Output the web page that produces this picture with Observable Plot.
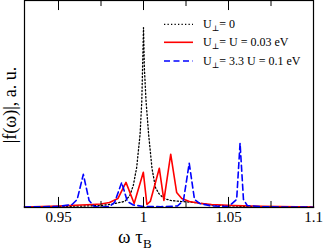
<!DOCTYPE html>
<html>
<head>
<meta charset="utf-8">
<script src="https://cdn.jsdelivr.net/npm/d3@7"></script>
<script src="https://cdn.jsdelivr.net/npm/@observablehq/plot@0.6"></script>
<style>
  html, body { margin: 0; padding: 0; background: #fff; }
  #chart { width: 324px; height: 250px; }
</style>
</head>
<body>
<div id="chart"></div>
<script>
// Series 1: U⊥ = 0 (black dotted)
const omega0 = [0.93, 0.95, 0.965, 0.975, 0.982, 0.986, 0.989, 0.992, 0.994, 0.996, 0.998, 0.999, 1.0, 1.0005, 1.0015, 1.003, 1.005, 1.007, 1.009, 1.012, 1.016, 1.022, 1.03, 1.04, 1.06, 1.08, 1.1];
const f0     = [0.5, 1, 1.5, 2, 3.5, 5, 6, 12, 22, 40, 73, 106, 179, 139, 106, 73, 39, 20, 14, 9, 7, 6, 5, 2.5, 1, 0.7, 0.5];

// Series 2: U⊥ = U = 0.03 eV (red solid)
const omega1 = [0.93, 0.95, 0.97, 0.975, 0.98, 0.985, 0.9897, 0.9945, 0.9999, 1.002, 1.004, 1.0093, 1.012, 1.016, 1.0195, 1.0225, 1.027, 1.033, 1.04, 1.053, 1.07, 1.1];
const f1     = [0.5, 1.5, 3, 3.5, 5, 9, 25, 4, 35, 3, 6, 39, 7, 53, 15, 9, 6, 4.3, 3, 2, 1.2, 0.5];

// Series 3: U⊥ = 3.3 U = 0.1 eV (blue dashed)
const omega2 = [0.93, 0.95, 0.958, 0.961, 0.9646, 0.968, 0.971, 0.975, 0.98, 0.983, 0.9872, 0.9905, 0.994, 1.0, 1.01, 1.02, 1.0235, 1.0269, 1.03, 1.033, 1.04, 1.05, 1.0548, 1.0568, 1.0588, 1.061, 1.07, 1.08, 1.1];
const f2     = [0.5, 1, 3, 8, 33, 7, 1, 0.3, 1, 5, 25, 6, 2.5, 1, 0.8, 1.5, 7, 44, 8, 4, 1.5, 1, 8, 64, 8, 2, 0.8, 0.5, 0.3];

const seriesLabels = ["U⊥= 0", "U⊥= U = 0.03 eV", "U⊥= 3.3 U = 0.1 eV"];
const xTickValues = [0.95, 1, 1.05, 1.1];
const majorTicks = [0.95, 1, 1.05];
const minorTicks = [0.975, 1.025, 1.075];

const toRows = (xs, ys) => xs.map((x, i) => ({x, y: ys[i]}));
const rows0 = toRows(omega0, f0);
const rows1 = toRows(omega1, f1);
const rows2 = toRows(omega2, f2);

const serif = "'Liberation Serif', 'DejaVu Serif', serif";
const yTop = 206;

const chart = Plot.plot({
  width: 324,
  height: 250,
  marginLeft: 24,
  marginRight: 11,
  marginTop: 0,
  marginBottom: 43,
  style: {background: "#fff", fontFamily: serif},
  x: {domain: [0.93, 1.1]},
  y: {domain: [0, yTop], axis: null},
  marks: [
    Plot.line(rows0, {x: "x", y: "y", stroke: "#000", strokeWidth: 1.3, strokeDasharray: "1.3,2.2"}),
    Plot.line(rows1, {x: "x", y: "y", stroke: "#ff0000", strokeWidth: 1.6}),
    Plot.line(rows2, {x: "x", y: "y", stroke: "#0000ff", strokeWidth: 1.6, strokeDasharray: "6,3.5"}),
    Plot.ruleX(majorTicks, {y1: 0, y2: 10, stroke: "#000", strokeWidth: 1}),
    Plot.ruleX(majorTicks, {y1: yTop - 10, y2: yTop, stroke: "#000", strokeWidth: 1}),
    Plot.ruleX(minorTicks, {y1: 0, y2: 6, stroke: "#000", strokeWidth: 1}),
    Plot.ruleX(minorTicks, {y1: yTop - 6, y2: yTop, stroke: "#000", strokeWidth: 1}),
    Plot.frame({stroke: "#000", strokeWidth: 1.2}),
    Plot.axisX(xTickValues, {tickSize: 0, tickPadding: 4, fontSize: 15, fontFamily: serif, tickFormat: d => String(d), label: null})
  ]
});

document.getElementById("chart").appendChild(chart);

const svg = d3.select(chart);

// x axis label: ω τ_B
const xl = svg.append("text")
  .attr("x", 118).attr("y", 243).attr("text-anchor", "start")
  .attr("font-family", serif).attr("font-size", 19).attr("fill", "#000");
xl.append("tspan").text("ω τ");
xl.append("tspan").attr("font-size", 13).attr("dy", 5).text("B");

// y axis label
svg.append("text")
  .attr("transform", "translate(16,105) rotate(-90)")
  .attr("text-anchor", "middle")
  .attr("font-family", serif).attr("font-size", 18).attr("fill", "#000")
  .text("|f(ω)|, a. u.");

// legend
const legendStyles = [
  {stroke: "#000", dash: "1.3,2.2", width: 1.3},
  {stroke: "#ff0000", dash: null, width: 1.6},
  {stroke: "#0000ff", dash: "6,3.5", width: 1.6}
];
const legendY = [24.3, 42.3, 61];
seriesLabels.forEach((lab, i) => {
  const st = legendStyles[i];
  const ln = svg.append("line")
    .attr("x1", 164).attr("x2", 193)
    .attr("y1", legendY[i]).attr("y2", legendY[i])
    .attr("stroke", st.stroke).attr("stroke-width", st.width);
  if (st.dash) ln.attr("stroke-dasharray", st.dash);
  const t = svg.append("text")
    .attr("x", 203).attr("y", legendY[i] + 4).attr("text-anchor", "start")
    .attr("font-family", serif).attr("font-size", 12).attr("fill", "#000");
  const parts = lab.split("⊥");
  t.append("tspan").text(parts[0]);
  t.append("tspan").attr("font-size", 8).attr("dy", 3).text("⊥");
  t.append("tspan").attr("dy", -3).text(parts[1]);
});
</script>
</body>
</html>
